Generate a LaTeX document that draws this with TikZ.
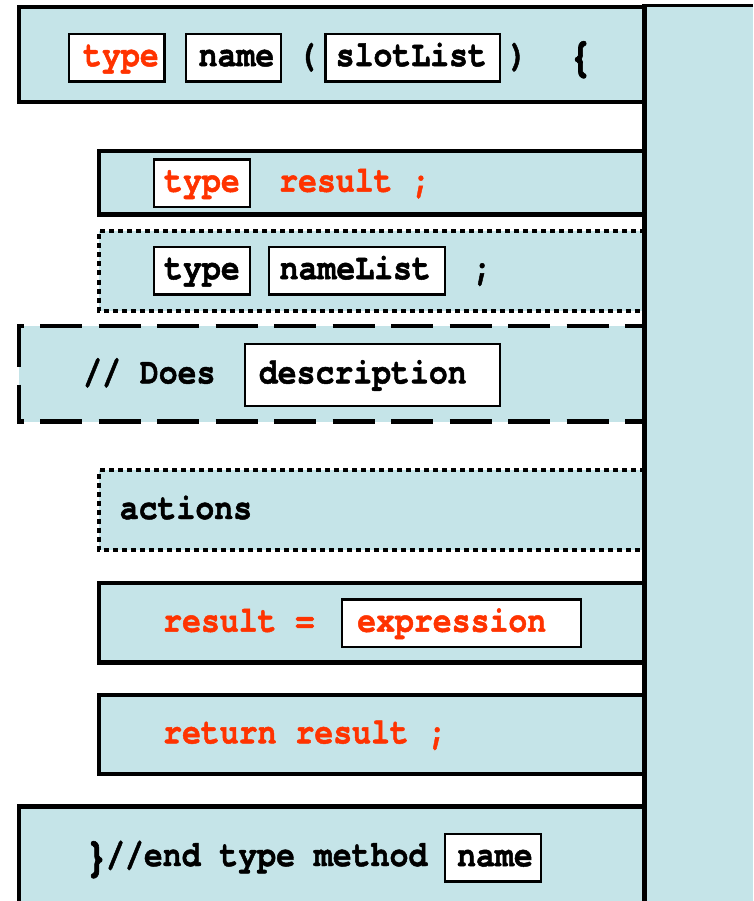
\documentclass[tikz,border=0pt]{standalone}
\usepackage{fontspec}
\setmonofont{TeX Gyre Cursor}[FakeStretch=0.863, BoldFeatures={FakeBold=1.3}]
\definecolor{cellblue}{RGB}{197,228,232}
\definecolor{codered}{RGB}{255,51,0}
\newcommand{\bigbrace}[1]{\makebox[18.9pt][c]{\raisebox{-5pt}{\fontsize{48}{48}\selectfont#1}}}
\begin{document}
\begin{tikzpicture}[x=1pt,y=-1pt,
  every node/.style={font=\fontsize{36.5}{40}\selectfont\ttfamily\bfseries},
  bandfill/.style={fill=cellblue},
  solidedge/.style={draw=black, line width=4.4pt, line join=miter},
  dottededge/.style={draw=black, line width=3.7pt, dash pattern=on 5pt off 4pt},
  dashedge/.style={draw=black, line width=4.4pt, dash pattern=on 42pt off 16.5pt},
  slot/.style={draw=black, fill=white, line width=2.4pt, minimum height=47.5pt,
    inner xsep=0pt, inner ysep=0pt, text height=22.8pt, text depth=6pt,
    align=left, anchor=west},
  code/.style={anchor=base west, inner sep=0pt},
  hot/.style={text=codered}]
\useasboundingbox (0,0) rectangle (753,901);
% band fills
\fill[bandfill] (19,7) rectangle (644.5,102);
\fill[bandfill] (99,151) rectangle (644.5,214.5);
\fill[bandfill] (99,231) rectangle (644.5,311);
\fill[bandfill] (19,325.7) rectangle (644.5,421.5);
\fill[bandfill] (99,470) rectangle (644.5,549.7);
\fill[bandfill] (99,583) rectangle (644.5,662.5);
\fill[bandfill] (99,695) rectangle (644.5,774);
\fill[bandfill] (19,806.5) rectangle (644.5,901);
\fill[bandfill] (644.5,6) rectangle (753,901);
% band borders
\draw[solidedge] (644.5,102) -- (19,102) -- (19,7) -- (644.5,7);
\draw[solidedge] (644.5,151) -- (99,151) -- (99,214.5) -- (644.5,214.5);
\draw[dottededge] (644.5,231) -- (99,231) -- (99,311) -- (644.5,311);
\draw[dashedge, dash phase=35.5pt] (17,325.7) -- (644.5,325.7);
\draw[dashedge, dash phase=35.5pt] (17,421.5) -- (644.5,421.5);
\draw[dashedge, dash pattern=on 43pt off 17.5pt] (19,324) -- (19,424);
\draw[dottededge] (644.5,470) -- (99,470) -- (99,549.7) -- (644.5,549.7);
\draw[solidedge] (644.5,583) -- (99,583) -- (99,662.5) -- (644.5,662.5);
\draw[solidedge] (644.5,695) -- (99,695) -- (99,774) -- (644.5,774);
\draw[solidedge] (644.5,806.5) -- (19,806.5) -- (19,901);
\draw[draw=black, line width=3pt] (753,6) -- (644.5,6);
\draw[solidedge] (644.5,4.5) -- (644.5,901);
% row 1
\node[slot, hot, text width=95.7pt] (h1type) at (67.5,57.7) {\hspace*{14.5pt}type};
\node[slot, text width=95pt] (h1name) at (185,57.7) {\hspace*{12.5pt}name};
\node[code] (h1open) at (297.5,66) {(};
\node[slot, text width=174.6pt] (h1slots) at (324.2,57.7) {\hspace*{10.3pt}slotList};
\node[code] (h1close) at (508.5,66) {)};
\node[code] (h1brace) at (571,66) {\bigbrace{\{}};
% row 2
\node[slot, hot, text width=96.2pt] (r2type) at (152.6,183.3) {\hspace*{10.4pt}type};
\node[code, hot] (r2res) at (279,191.7) {result ;};
% row 3
\node[slot, text width=96.2pt] (r3type) at (152.6,270.8) {\hspace*{10.4pt}type};
\node[slot, text width=175.5pt] (r3names) at (268,270.8) {\hspace*{10.5pt}nameList};
\node[code] (r3semi) at (472.5,279.2) {;};
% row 4
\node[code] (r4does) at (83,383.4) {// Does};
\node[slot, minimum height=62pt, text width=254.8pt] (r4desc) at (244,375) {\hspace*{13.6pt}description};
% row 5
\node[code] (r5act) at (119.6,519) {actions};
% row 6
\node[code, hot] (r6res) at (163,631.7) {result =};
\node[slot, hot, text width=239pt] (r6expr) at (340.6,623.3) {\hspace*{15.4pt}expression};
% row 7
\node[code, hot] (r7ret) at (163,743.3) {return result ;};
% row 8
\node[code] (r8end) at (87,866) {\bigbrace{\}}//end type method};
\node[slot, text width=95.7pt] (r8name) at (444,857.8) {\hspace*{12pt}name};
\end{tikzpicture}
\end{document}
